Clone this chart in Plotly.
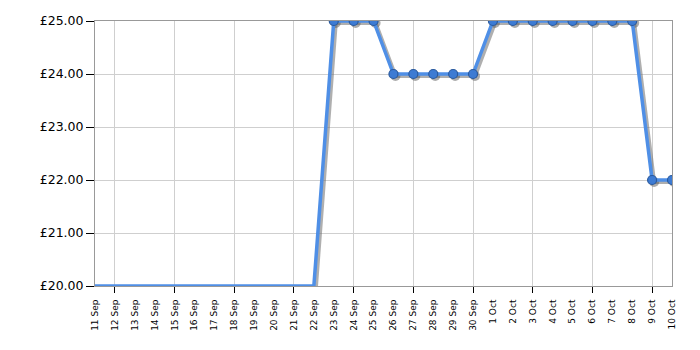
import plotly.graph_objects as go

dates = ["11 Sep", "12 Sep", "13 Sep", "14 Sep", "15 Sep", "16 Sep", "17 Sep", "18 Sep",
         "19 Sep", "20 Sep", "21 Sep", "22 Sep", "23 Sep", "24 Sep", "25 Sep", "26 Sep",
         "27 Sep", "28 Sep", "29 Sep", "30 Sep", "1 Oct", "2 Oct", "3 Oct", "4 Oct",
         "5 Oct", "6 Oct", "7 Oct", "8 Oct", "9 Oct", "10 Oct"]
prices = [20.00, 20.00, 20.00, 20.00, 20.00, 20.00, 20.00, 20.00, 20.00, 20.00, 20.00, 20.00,
          25.00, 25.00, 25.00, 24.00, 24.00, 24.00, 24.00, 24.00,
          25.00, 25.00, 25.00, 25.00, 25.00, 25.00, 25.00, 25.00, 22.00, 22.00]
y_ticks = [20, 21, 22, 23, 24, 25]
y_labels = ["£20.00", "£21.00", "£22.00", "£23.00", "£24.00", "£25.00"]

idx = list(range(len(dates)))
grid_idx = idx[1::3]

W, H = 700, 350
ML, MR, MT, MB = 95, 28, 21, 64
pw, ph = W - ML - MR, H - MT - MB
xr = [0, len(dates) - 1]
yr = [20, 25]
dx = 2 * (xr[1] - xr[0]) / pw
dy = 2 * (yr[1] - yr[0]) / ph

mk_x = [i for i, p in zip(idx, prices) if p > yr[0]]
mk_y = [p for p in prices if p > yr[0]]

fig = go.Figure()
# base subplot (carries the visible axes and grid)
fig.add_trace(go.Scatter(x=[None], y=[None], mode="lines", xaxis="x", yaxis="y",
                         hoverinfo="skip", showlegend=False))
# shadow
fig.add_trace(go.Scatter(x=idx, y=prices, mode="lines", xaxis="x2", yaxis="y2",
                         line=dict(color="rgba(110,110,110,0.55)", width=4),
                         hoverinfo="skip", showlegend=False))
fig.add_trace(go.Scatter(x=mk_x, y=mk_y, mode="markers", xaxis="x2", yaxis="y2",
                         marker=dict(size=10, color="rgba(90,90,90,0.5)", line=dict(width=0)),
                         hoverinfo="skip", showlegend=False))
# main line
fig.add_trace(go.Scatter(x=idx, y=prices, mode="lines", xaxis="x3", yaxis="y3",
                         line=dict(color="#4f8fe6", width=3.5), showlegend=False))
fig.add_trace(go.Scatter(x=mk_x, y=mk_y, mode="markers", xaxis="x3", yaxis="y3",
                         marker=dict(size=9, color="#3d7bd3", line=dict(color="#2a5a9e", width=1.2)),
                         showlegend=False))

fig.update_layout(
    width=W, height=H,
    margin=dict(l=ML, r=MR, t=MT, b=MB),
    paper_bgcolor="white", plot_bgcolor="white",
    font=dict(family="DejaVu Sans", color="#000"),
    xaxis=dict(range=xr, tickmode="array", tickvals=idx, ticktext=dates, tickangle=-90,
               tickfont=dict(size=9), ticks="outside", ticklen=9,
               tickcolor="rgba(0,0,0,0)", showgrid=False, zeroline=False,
               showline=True, linecolor="#999", linewidth=1, mirror=True,
               layer="below traces",
               minor=dict(tickmode="array", tickvals=grid_idx, ticks="outside", ticklen=6,
                          tickcolor="#000", showgrid=True, gridcolor="#cfcfcf", gridwidth=1)),
    yaxis=dict(range=yr, tickmode="array", tickvals=y_ticks, ticktext=y_labels,
               tickfont=dict(size=12.5), ticks="outside", ticklen=8, tickcolor="#000",
               showgrid=True, gridcolor="#cfcfcf", zeroline=False,
               showline=True, linecolor="#999", linewidth=1, mirror=True,
               layer="below traces"),
    xaxis2=dict(range=[xr[0] - dx, xr[1] - dx], overlaying="x", anchor="y2", visible=False),
    yaxis2=dict(range=[yr[0] + dy, yr[1] + dy], overlaying="y", anchor="x2", visible=False),
    xaxis3=dict(range=xr, overlaying="x", anchor="y3", visible=False),
    yaxis3=dict(range=yr, overlaying="y", anchor="x3", visible=False),
)

fig.write_html("out.html")
